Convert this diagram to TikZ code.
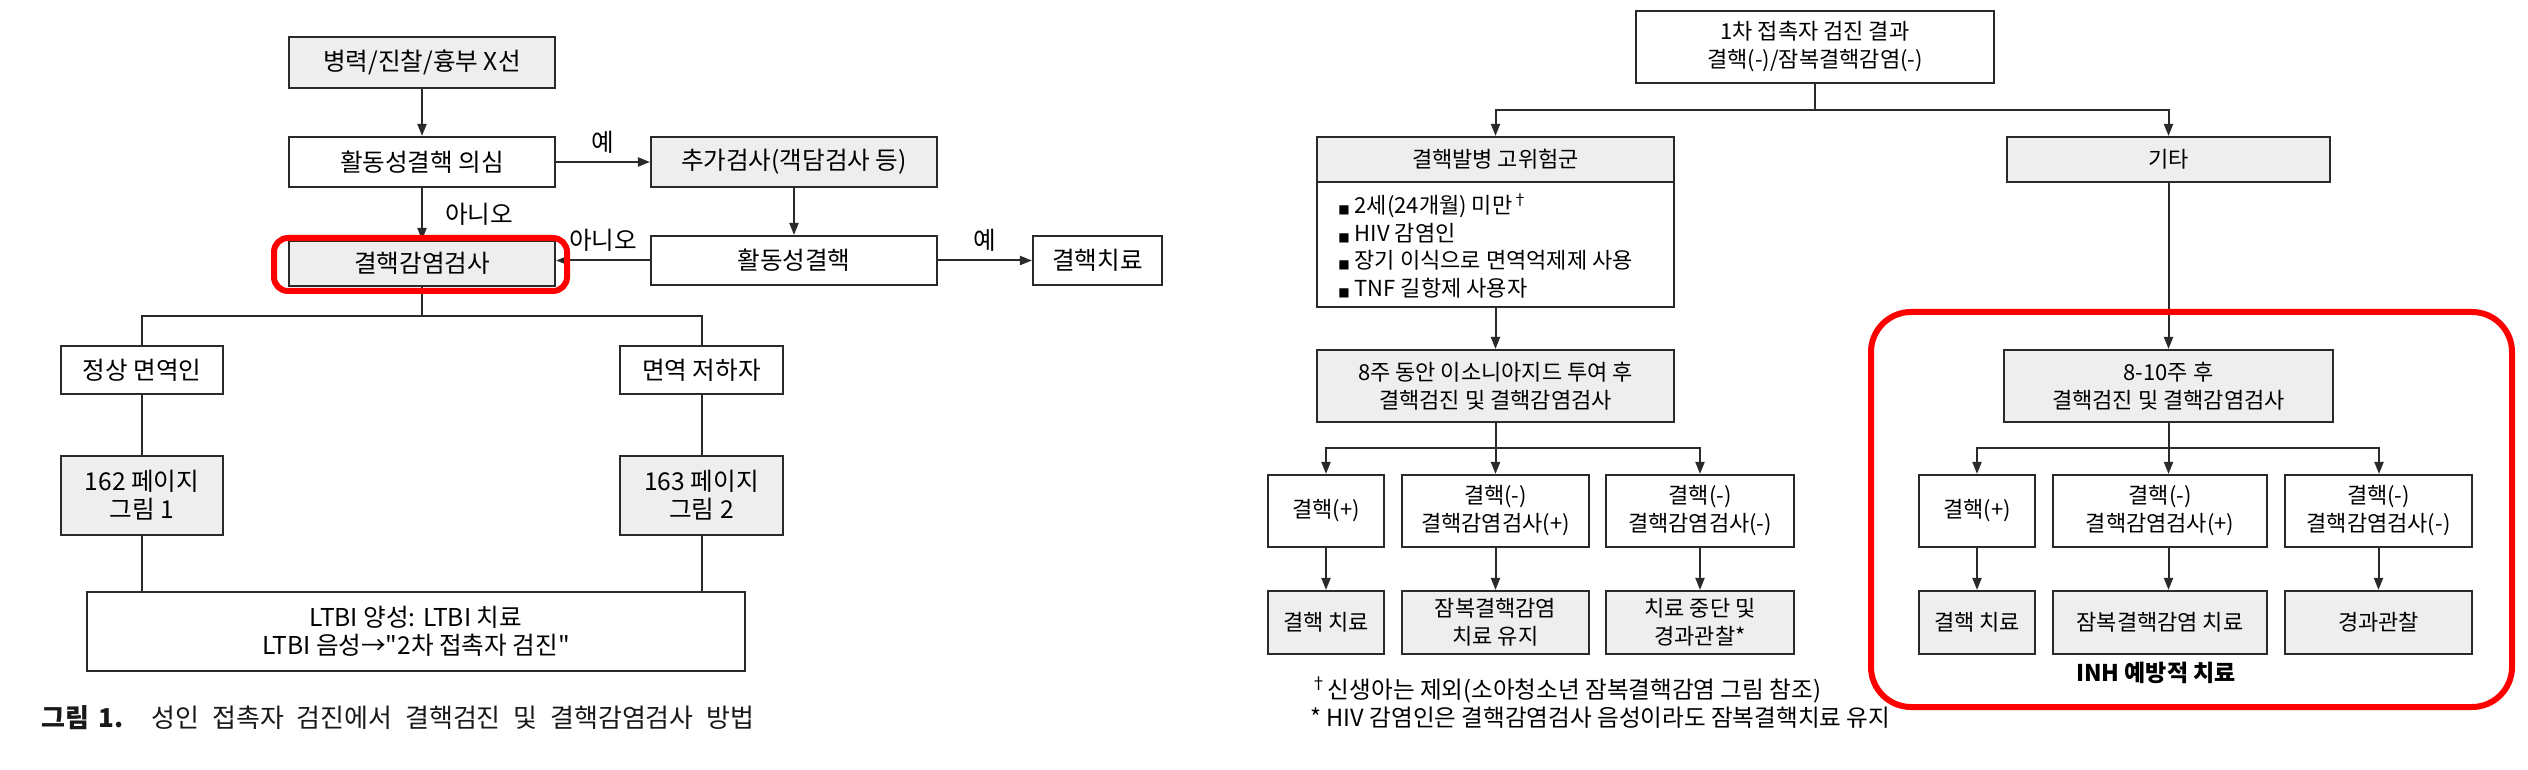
\documentclass[tikz,border=0pt]{standalone}
\usepackage{fontspec}
\setmainfont{Noto Sans CJK KR}[Ligatures=TeXOff]
\newfontfamily\dejavu{DejaVu Sans}
\usetikzlibrary{arrows.meta}
\definecolor{boxgray}{HTML}{EEEEEE}
\definecolor{linegray}{HTML}{2A2A2A}
\definecolor{redmark}{HTML}{FF0000}
\newcommand\mkbox[7]{\node[#1, minimum width={(#5-#3)*0.5pt}, minimum height={(#6-#4)*0.5pt}] (#2) at ({(#3+#5)/2},{(#4+#6)/2}) {#7};}
\newcommand\bul{{\dejavu\fontsize{6pt}{6pt}\selectfont ■}\hspace{2.5pt}}
\begin{document}
\begin{tikzpicture}[x=0.5pt,y=-0.5pt,
  wbox/.style={draw=linegray, line width=1.05pt, fill=white, inner sep=0pt, align=center, font=\fontsize{11pt}{14pt}\selectfont},
  gbox/.style={wbox, fill=boxgray},
  lfont/.style={font=\fontsize{12.3pt}{14pt}\selectfont},
  arr/.style={draw=linegray, line width=1pt, -{Triangle[length=6pt,width=4.5pt]}},
  ln/.style={draw=linegray, line width=1pt},
  lbl/.style={inner sep=0pt, font=\fontsize{12.3pt}{14pt}\selectfont},
  redbox/.style={draw=redmark, line width=3pt}]
\useasboundingbox (0,0) rectangle (2528,770);

% ---------------- left chart ----------------
\mkbox{gbox,lfont}{n1}{289}{37}{555}{88}{병력/진찰/흉부 X선}
\mkbox{wbox,lfont}{n2}{289}{137}{555}{187}{활동성결핵 의심}
\mkbox{gbox,lfont}{n3}{651}{137}{937}{187}{추가검사(객담검사 등)}
\mkbox{wbox,lfont}{n4}{651}{236}{937}{285}{활동성결핵}
\mkbox{gbox,lfont}{n5}{289}{241}{555}{286}{결핵감염검사}
\mkbox{wbox,lfont}{n11}{1033}{236}{1162}{285}{결핵치료}
\mkbox{wbox,lfont}{n6}{61}{346}{223}{394}{정상 면역인}
\mkbox{wbox,lfont}{n7}{620}{346}{783}{394}{면역 저하자}
\mkbox{gbox,lfont}{n8}{61}{456}{223}{535}{162 페이지\\그림 1}
\mkbox{gbox,lfont}{n9}{620}{456}{783}{535}{163 페이지\\그림 2}
\mkbox{wbox,lfont}{n10}{87}{592}{745}{671}{LTBI 양성: LTBI 치료\\LTBI 음성→"2차 접촉자 검진"}

\draw[arr] (n1) -- (n2);
\draw[arr] (n2) -- node[lbl, above=4pt] (l1) {예} (n3);
\draw[arr] (n2) -- node[lbl, right=11pt] (l2) {아니오} (n5);
\draw[arr] (n3) -- (n4);
\draw[arr] (n4.west) -- node[lbl, above=4pt] (l3) {아니오} (n4.west -| n5.east);
\draw[arr] (n4) -- node[lbl, above=4pt] (l4) {예} (n11);
\coordinate (bar1) at (422,316);
\draw[ln] (n5.south) -- (bar1);
\draw[ln] (n6.north) -- (n6.north |- bar1) -- (n7.north |- bar1) -- (n7.north);
\draw[ln] (n6) -- (n8);
\draw[ln] (n7) -- (n9);
\draw[ln] (n8.south) -- (n8.south |- n10.north);
\draw[ln] (n9.south) -- (n9.south |- n10.north);

\draw[redbox, rounded corners=7pt] (274,238) rectangle (567,291);

\node[anchor=west, inner sep=0pt, font=\fontsize{13pt}{15pt}\selectfont, text=black!90] (cap) at (41,718)
  {\makebox[356.5pt][s]{\textbf{그림\hspace*{4.5pt}1.} 성인 접촉자 검진에서 결핵검진 및 결핵감염검사 방법}};

% ---------------- right chart ----------------
\mkbox{wbox}{r1}{1636}{11}{1994}{83}{1차 접촉자 검진 결과\\결핵(-)/잠복결핵감염(-)}
\mkbox{gbox}{r2}{1317}{137}{1674}{182}{결핵발병 고위험군}
\mkbox{wbox}{r3}{1317}{182}{1674}{307}{}
\node[anchor=west, inner sep=0pt, align=left, font=\fontsize{11pt}{13.75pt}\selectfont] (r3t) at (1338,246)
  {\bul 2세(24개월) 미만\textsuperscript{†}\\
   \bul HIV 감염인\\
   \bul 장기 이식으로 면역억제제 사용\\
   \bul TNF 길항제 사용자};
\mkbox{gbox}{r4}{2007}{137}{2330}{182}{기타}
\mkbox{gbox}{r5}{1317}{350}{1674}{422}{8주 동안 이소니아지드 투여 후\\결핵검진 및 결핵감염검사}
\mkbox{gbox}{r6}{2004}{350}{2333}{422}{8-10주 후\\결핵검진 및 결핵감염검사}

\mkbox{wbox}{r7a}{1268}{475}{1384}{547}{결핵(+)}
\mkbox{wbox}{r7b}{1402}{475}{1589}{547}{결핵(-)\\결핵감염검사(+)}
\mkbox{wbox}{r7c}{1606}{475}{1794}{547}{결핵(-)\\결핵감염검사(-)}
\mkbox{gbox}{r8a}{1268}{591}{1384}{654}{결핵 치료}
\mkbox{gbox}{r8b}{1402}{591}{1589}{654}{잠복결핵감염\\치료 유지}
\mkbox{gbox}{r8c}{1606}{591}{1794}{654}{치료 중단 및\\경과관찰*}

\mkbox{wbox}{r9a}{1919}{475}{2035}{547}{결핵(+)}
\mkbox{wbox}{r9b}{2053}{475}{2267}{547}{결핵(-)\\결핵감염검사(+)}
\mkbox{wbox}{r9c}{2285}{475}{2472}{547}{결핵(-)\\결핵감염검사(-)}
\mkbox{gbox}{r10a}{1919}{591}{2035}{654}{결핵 치료}
\mkbox{gbox}{r10b}{2053}{591}{2267}{654}{잠복결핵감염 치료}
\mkbox{gbox}{r10c}{2285}{591}{2472}{654}{경과관찰}

\coordinate (rb1) at (1816,110);
\draw[ln] (r1.south) -- (r1.south |- rb1);
\draw[arr] (r1.south |- rb1) -| (r2);
\draw[arr] (r1.south |- rb1) -| (r4);
\draw[arr] (r3) -- (r5);
\draw[arr] (r4) -- (r6);

\coordinate (rb2) at (1495,448);
\draw[ln] (r5.south) -- (r5.south |- rb2);
\draw[arr] (r5.south |- rb2) -| (r7a);
\draw[arr] (r5.south |- rb2) -- (r7b);
\draw[arr] (r5.south |- rb2) -| (r7c);
\draw[arr] (r7a) -- (r8a);
\draw[arr] (r7b) -- (r8b);
\draw[arr] (r7c) -- (r8c);

\coordinate (rb3) at (2168,448);
\draw[ln] (r6.south) -- (r6.south |- rb3);
\coordinate (ra) at (1977,448);
\coordinate (rc) at (2379,448);
\draw[arr] (r6.south |- rb3) -- (ra) -- (ra |- r9a.north);
\draw[arr] (r6.south |- rb3) -- (r6.south |- r9b.north);
\draw[arr] (r6.south |- rb3) -- (rc) -- (rc |- r9c.north);
\draw[arr] (r9a) -- (r10a);
\draw[arr] (r6.south |- r9b.south) -- (r6.south |- r10b.north);
\draw[arr] (r9c) -- (r10c);

\node[anchor=west, inner sep=0pt, align=left, font=\fontsize{11.8pt}{14pt}\selectfont] (fn1) at (1310,690)
  {\textsuperscript{†}신생아는 제외(소아청소년 잠복결핵감염 그림 참조)};
\node[anchor=west, inner sep=0pt, align=left, font=\fontsize{11.8pt}{14pt}\selectfont] (fn2) at (1310,718)
  {* HIV 감염인은 결핵감염검사 음성이라도 잠복결핵치료 유지};

\node[inner sep=0pt, font=\fontsize{11.5pt}{14pt}\selectfont\bfseries] (inh) at (2156,673) {INH 예방적 치료};
\draw[redbox, rounded corners=20pt] (1871,312) rectangle (2512,707);
\end{tikzpicture}
\end{document}
